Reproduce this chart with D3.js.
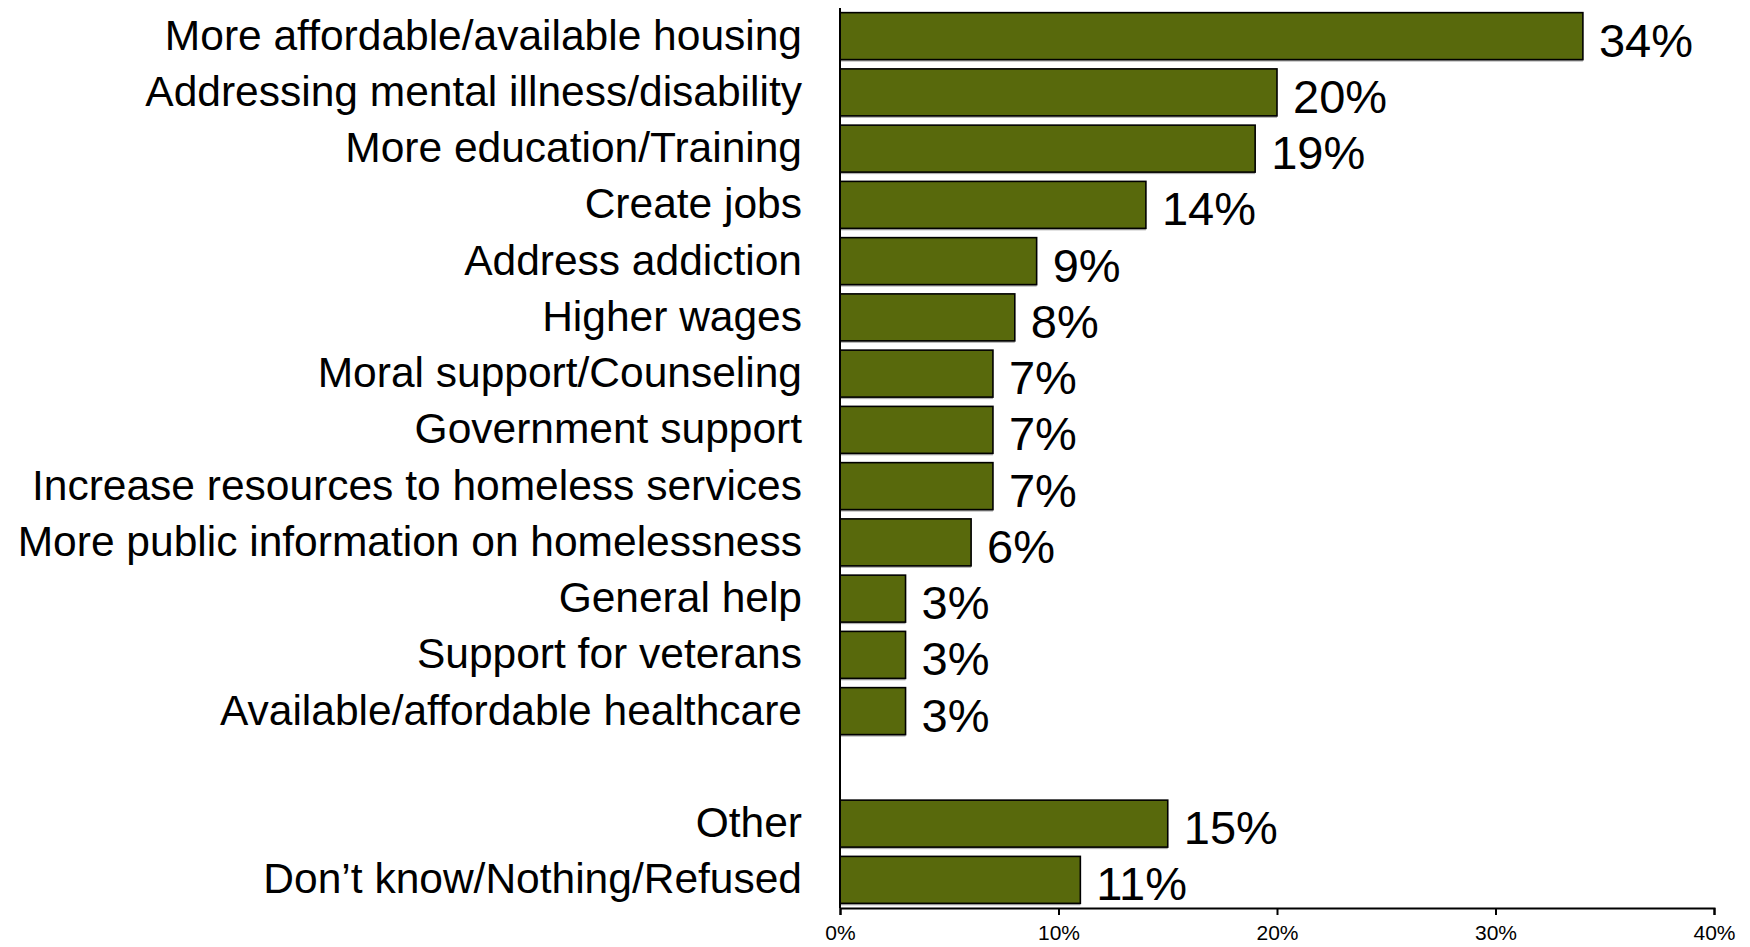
<!DOCTYPE html>
<html><head><meta charset="utf-8">
<script src="https://cdn.jsdelivr.net/npm/d3@7"></script>
<style>body{margin:0;background:#fff}svg{display:block}</style>
</head><body>
<svg id="c" width="1750" height="947"></svg>
<script>
const categories = [
  "More affordable/available housing",
  "Addressing mental illness/disability",
  "More education/Training",
  "Create jobs",
  "Address addiction",
  "Higher wages",
  "Moral support/Counseling",
  "Government support",
  "Increase resources to homeless services",
  "More public information on homelessness",
  "General help",
  "Support for veterans",
  "Available/affordable healthcare",
  "",
  "Other",
  "Don\u2019t know/Nothing/Refused"
];
const values = [34, 20, 19, 14, 9, 8, 7, 7, 7, 6, 3, 3, 3, null, 15, 11];
const tickValues = [0, 10, 20, 30, 40];

const svg = d3.select("#c");
const x0 = 840, x1 = 1714, yTop = 8, yBot = 908;
const x = d3.scaleLinear().domain([0, 40]).range([x0, x1]);
const slots = categories.map((c, i) => i);
const y = d3.scaleBand().domain(slots).range([yTop, yBot]).paddingInner(0.165).paddingOuter(0.0825);

const data = categories.map((c, i) => ({c, v: values[i], i})).filter(d => d.v !== null);

// shadow
svg.append("g").selectAll("rect").data(data).join("rect")
  .attr("x", x(0)).attr("y", d => y(d.i) + 2)
  .attr("width", d => x(d.v) - x(0)).attr("height", y.bandwidth())
  .attr("fill", "#b0b0b0");
// bars
svg.append("g").selectAll("rect").data(data).join("rect")
  .attr("x", x(0)).attr("y", d => y(d.i))
  .attr("width", d => x(d.v) - x(0)).attr("height", y.bandwidth())
  .attr("fill", "#58690C").attr("stroke", "#000").attr("stroke-width", 1.6);

// category labels
svg.append("g").selectAll("text").data(data).join("text")
  .attr("x", 802).attr("y", d => y(d.i) + y.bandwidth() / 2 - 1.5)
  .attr("dy", "0.35em").attr("text-anchor", "end")
  .attr("font-family", "Liberation Sans, Arial, sans-serif").attr("font-size", 42.5)
  .attr("fill", "#000").text(d => d.c);

// value labels
svg.append("g").selectAll("text").data(data).join("text")
  .attr("x", d => x(d.v) + 16).attr("y", d => y(d.i) + y.bandwidth() / 2 + 4)
  .attr("dy", "0.35em").attr("text-anchor", "start")
  .attr("font-family", "Liberation Sans, Arial, sans-serif").attr("font-size", 47)
  .attr("fill", "#000").text(d => d.v + "%");

// y axis line
svg.append("line").attr("x1", x0).attr("x2", x0).attr("y1", yTop).attr("y2", yBot)
  .attr("stroke", "#000").attr("stroke-width", 2);

// x axis
const xAxis = d3.axisBottom(x).tickValues(tickValues).tickFormat(d => d + "%").tickSize(7).tickPadding(10);
const gx = svg.append("g").attr("transform", `translate(0,${yBot})`).call(xAxis);
gx.select(".domain").attr("stroke", "#000").attr("stroke-width", 2);
gx.selectAll(".tick line").attr("stroke", "#000").attr("stroke-width", 2);
gx.selectAll(".tick text").attr("font-family", "Liberation Sans, Arial, sans-serif")
  .attr("font-size", 21).attr("fill", "#000");
</script>
</body></html>
